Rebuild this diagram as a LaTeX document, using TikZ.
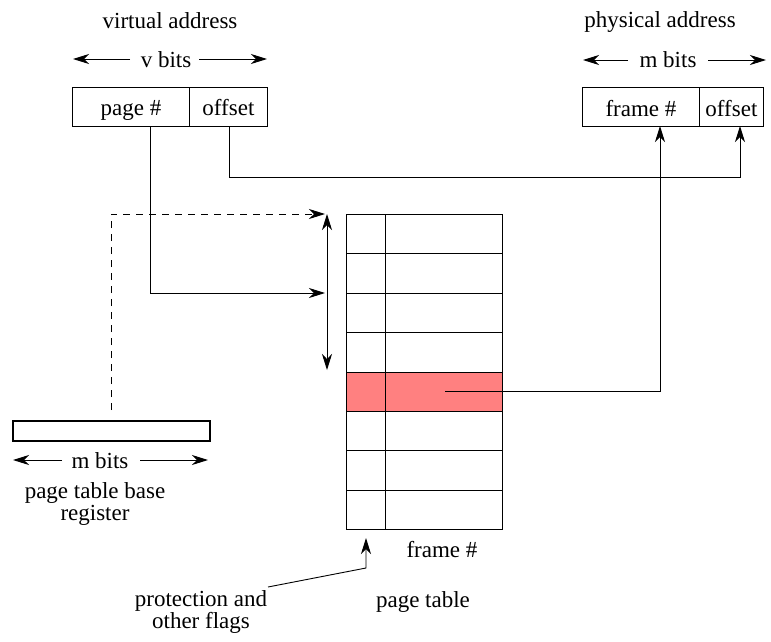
\documentclass[tikz,border=0pt]{standalone}
\usepackage{fontspec}
\setmainfont{Liberation Serif}
\usetikzlibrary{arrows.meta}
\definecolor{rowred}{HTML}{FF8080}
\begin{document}
\begin{tikzpicture}[x=1pt,y=-1pt,
  txt/.style={font=\fontsize{23}{25}\selectfont, inner sep=0pt, anchor=base},
  tight/.style={text height=14pt, text depth=2pt},
  cell/.style={draw, line width=0.9pt, inner sep=0pt, anchor=north west,
    font=\fontsize{23}{25}\selectfont, minimum height=39pt},
  arr/.style={line width=0.9pt, -{Stealth[length=16pt,width=10pt,inset=5pt]}},
  dbl/.style={line width=0.9pt, {Stealth[length=16pt,width=10pt,inset=5pt]}-{Stealth[length=16pt,width=10pt,inset=5pt]}},
  ln/.style={line width=0.9pt}]
\useasboundingbox (0,0) rectangle (771,641);

% virtual address
\node[txt] (vatitle) at (170,28) {virtual address};
\node[txt] (vbits) at (166,67) {v bits};
\coordinate (vbls) at (130,59);
\coordinate (vbl) at (73,59);
\coordinate (vbrs) at (199,59);
\coordinate (vbr) at (267,59);
\draw[arr] (vbls) -- (vbl);
\draw[arr] (vbrs) -- (vbr);
\node[cell, minimum width=117pt, text height=20pt, text depth=3pt] (pg) at (72,87) {page \#};
\node[cell, minimum width=78pt, text height=20pt, text depth=3pt] (off) at (189,87) {offset};

% physical address
\node[txt] (patitle) at (660,27) {physical address};
\node[txt] (mbits) at (668,67) {m bits};
\coordinate (mbls) at (628,60);
\coordinate (mbl) at (583,60);
\coordinate (mbrs) at (708,60);
\coordinate (mbr) at (766,60);
\draw[arr] (mbls) -- (mbl);
\draw[arr] (mbrs) -- (mbr);
\node[cell, minimum width=117pt, text height=21pt, text depth=2pt] (fr) at (582,87) {frame \#};
\node[cell, minimum width=64pt, text height=21pt, text depth=2pt] (poff) at (699,87) {offset};

% page table
\foreach \i in {1,...,8} {
  \ifnum\i=5
    \node[cell, minimum width=156pt, minimum height=39.4pt, fill=rowred] (r\i) at (346,{214+(\i-1)*39.4}) {};
  \else
    \node[cell, minimum width=156pt, minimum height=39.4pt] (r\i) at (346,{214+(\i-1)*39.4}) {};
  \fi
}
\draw[ln] (385,214) -- (385,529);
\node[txt] (ptframe) at (442,557) {frame \#};
\node[txt] (pttitle) at (423,607) {page table};

% size arrow of table
\coordinate (sztop) at (327,214);
\coordinate (szbot) at (327,370);
\draw[dbl] (sztop) -- (szbot);

% page table base register
\node[draw, line width=1.5pt, inner sep=0pt, minimum width=197pt, minimum height=20pt, anchor=north west] (reg) at (12,420) {};
\node[txt] (rbits) at (100,468) {m bits};
\coordinate (rbls) at (62,460);
\coordinate (rbl) at (13,460);
\coordinate (rbrs) at (140,460);
\coordinate (rbr) at (208,460);
\draw[arr] (rbls) -- (rbl);
\draw[arr] (rbrs) -- (rbr);
\node[txt, tight] (regname) at (95,498) {page table base};
\node[txt, tight] (regname2) at (95,520) {register};

% flags label
\node[txt, tight] (prot) at (201,606) {protection and};
\node[txt, tight] (prot2) at (201,628) {other flags};

% connectors
\coordinate (pgdown) at (150,126);
\coordinate (pgtip) at (325,293);
\draw[arr] (pgdown) |- (pgtip);

\coordinate (offdown) at (229,126);
\coordinate (offturn) at (229,177);
\coordinate (offtip) at (740,126);
\draw[arr] (offdown) -- (offturn) -| (offtip);

\coordinate (redstart) at (445,391);
\coordinate (frtip) at (660,126);
\draw[arr] (redstart) -| (frtip);

\coordinate (dashstart) at (111,410);
\coordinate (dashtip) at (325,214);
\draw[arr, dashed, dash pattern=on 7pt off 6pt] (dashstart) |- (dashtip);

\coordinate (protstart) at (268,587);
\coordinate (protbend) at (366,568);
\coordinate (prottip) at (366,538);
\draw[arr] (protstart) -- (protbend) -- (prottip);
\end{tikzpicture}
\end{document}
